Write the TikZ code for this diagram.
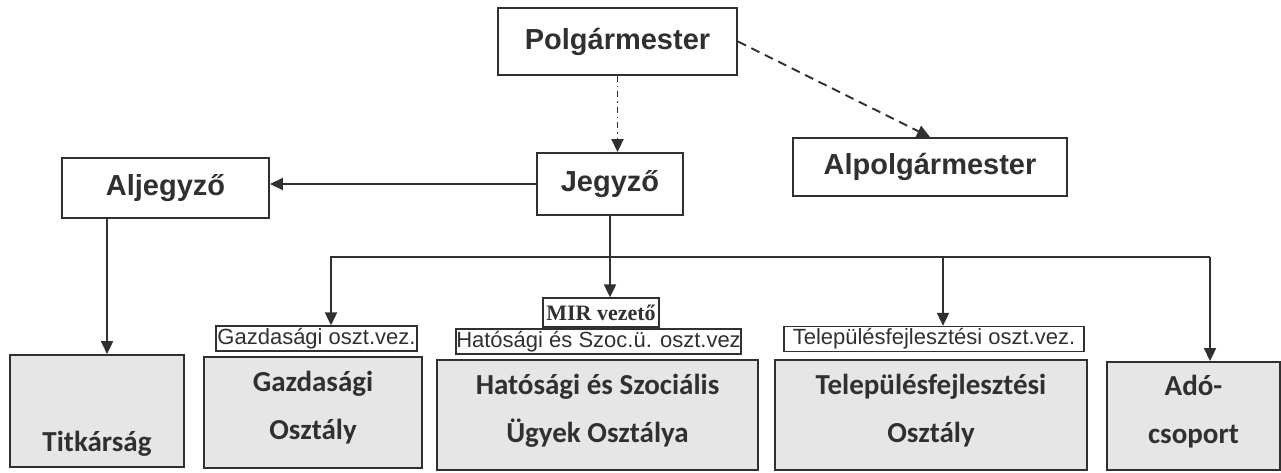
\documentclass[tikz,border=0pt]{standalone}
\usepackage{fontspec}
\newfontfamily\arialfont{Liberation Sans}
\newfontfamily\calibrifont{Carlito}
\newfontfamily\timesfont{Liberation Serif}
\usetikzlibrary{arrows.meta}
\definecolor{ink}{HTML}{303030}
\definecolor{boxgray}{HTML}{E6E6E6}

\begin{document}
\begin{tikzpicture}[x=1pt,y=-1pt,line width=1.9pt,color=ink,>={Triangle[length=13pt,width=12pt]}]
    \tikzset{
        top/.style={draw,rectangle,inner sep=0pt,font=\arialfont\bfseries\fontsize{29}{34}\selectfont},
        unit/.style={draw,fill=boxgray,inner sep=0pt,align=center,font=\calibrifont\bfseries\fontsize{29}{48}\selectfont},
        head/.style={draw,line width=1.3pt,inner sep=0pt,minimum height=25pt,font=\arialfont\fontsize{22}{24}\selectfont}
    };
    \useasboundingbox (0,0) rectangle (1281,472);
    % upper level
    \node[top,minimum width=239pt,minimum height=67pt] (polg) at (617.5,41.5) {Polgármester};
    \node[top,minimum width=146pt,minimum height=62pt] (jegy) at (610,184) {Jegyző};
    \node[top,minimum width=207pt,minimum height=60pt] (aljegy) at (165.5,188) {Aljegyző};
    \node[top,minimum width=274pt,minimum height=58pt] (alpolg) at (930,167) {Alpolgármester};
    % departments
    \node[unit,minimum width=174pt,minimum height=112pt,text height=80pt,text depth=0pt] (titk) at (97,411) {Titkárság};
    \node[unit,minimum width=218pt,minimum height=111pt,text depth=14pt] (gazd) at (313,412.5) {Gazdasági\\Osztály};
    \node[unit,minimum width=321pt,minimum height=110pt,text depth=14pt] (hat) at (597.5,415) {Hatósági és Szociális\\Ügyek Osztálya};
    \node[unit,minimum width=312pt,minimum height=110pt,text depth=14pt] (tel) at (931,415) {Településfejlesztési\\Osztály};
    \node[unit,minimum width=173pt,minimum height=108pt,text depth=14pt] (ado) at (1193.5,416) {Adó-\\csoport};
    % heads
    \node[head,minimum width=201pt] (gazdv) at (316.5,338.5) {Gazdasági oszt.vez.};
    \node[head,minimum width=285pt] (hatv) at (598.5,341.5) {Hatósági és Szoc.ü. oszt.vez};
    \node[head,minimum width=116pt,minimum height=29pt,font=\timesfont\bfseries\fontsize{22}{24}\selectfont] (mir) at (601,312.5) {MIR vezető};
    \node[head,minimum width=300pt] (telv) at (934,339) {Településfejlesztési oszt.vez.};
    % connectors
    \draw[->,dash pattern=on 6pt off 4pt on 1.5pt off 4pt] (polg.south) -- (polg.south |- jegy.north);
    \draw[->,dash pattern=on 9pt off 6pt] (polg.east) -- (alpolg.north);
    \draw[->] (jegy.west) -- (jegy.west -| aljegy.east);
    \coordinate (ajfoot) at ([xshift=46pt]aljegy.south west);
    \draw[->] (ajfoot) -- (ajfoot |- titk.north);
    \draw[->] (jegy.south) -- (jegy.south |- mir.north);
    \coordinate (busl) at (331,257);
    \coordinate (busm) at (943,257);
    \coordinate (busr) at (1210,257);
    \draw[->] (busr) -- (busl) -- (busl |- gazdv.north);
    \draw[->] (busm) -- (busm |- telv.north);
    \draw[->] (busr) -- (busr |- ado.north);
\end{tikzpicture}
\end{document}
